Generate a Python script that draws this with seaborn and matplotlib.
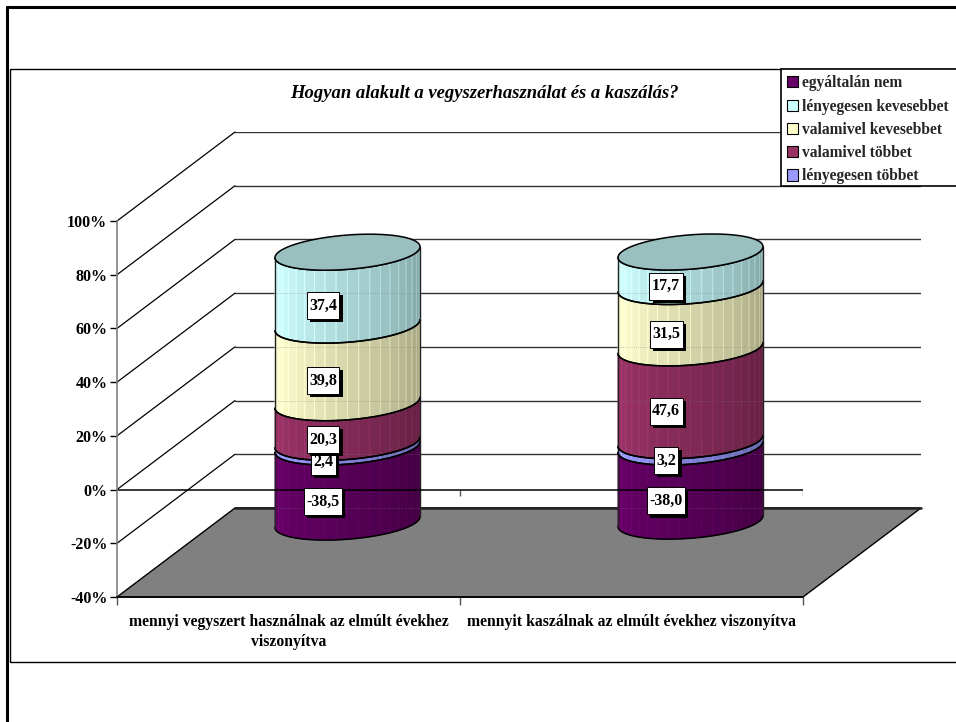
import numpy as np
import pandas as pd
import seaborn as sns
import matplotlib.pyplot as plt
from matplotlib.colors import to_rgb
from matplotlib.lines import Line2D
from matplotlib.path import Path
from matplotlib.patches import Patch, Polygon, Rectangle
from matplotlib.patheffects import withSimplePatchShadow
from matplotlib.transforms import blended_transform_factory

categories = ['mennyi vegyszert használnak az elmúlt évekhez\nviszonyítva',
              'mennyit kaszálnak az elmúlt évekhez viszonyítva']
egyaltalan_nem = [-38.5, -38.0]
lenyegesen_tobbet = [2.4, 3.2]
valamivel_tobbet = [20.3, 47.6]
valamivel_kevesebbet = [39.8, 31.5]
lenyegesen_kevesebbet = [37.4, 17.7]
y_ticks = [-40, -20, 0, 20, 40, 60, 80, 100]

c_purple = '#660066'
c_blue = '#9999FF'
c_red = '#993366'
c_yellow = '#FFFFCC'
c_cyan = '#CCFFFF'

W, H = 956, 722

sns.set_theme(style='white')
plt.rcParams['font.family'] = ['Liberation Serif', 'DejaVu Serif']
plt.rcParams['font.weight'] = 'bold'


def px_box(x0, x1, y_top, y_bottom):
    return [x0 / W, 1 - y_bottom / H, (x1 - x0) / W, (y_bottom - y_top) / H]


fig = plt.figure(figsize=(W / 100, H / 100), dpi=100, facecolor='white')

back = fig.add_axes(px_box(235, 921, 132, 508), zorder=1)
cyl = fig.add_axes(px_box(176, 862, 252, 525), zorder=3)
front = fig.add_axes(px_box(117, 803, 221, 597), zorder=4)

for ax in (back, cyl, front):
    ax.patch.set_alpha(0)

# back wall
back.set_xlim(-0.5, 1.5)
back.set_ylim(-40, 100)
back.set_yticks(y_ticks)
back.set_xticks([])
back.tick_params(labelleft=False, length=0)
back.grid(axis='y', color='#333333', lw=1)
sns.despine(ax=back, left=True, bottom=True)

# front axis
front.set_xlim(-0.5, 1.5)
front.set_ylim(-40, 100)
front.set_yticks(y_ticks)
front.set_yticklabels([f'{v}%' for v in y_ticks], fontsize=11.5, fontweight='bold', color='black')
front.set_xticks([0, 1])
front.set_xticklabels(categories, fontsize=11.3, fontweight='bold', color='black', linespacing=1.35)
front.set_xticks([-0.5, 0.5, 1.5], minor=True)
front.tick_params(axis='y', left=True, length=5, width=1, color='black', pad=2)
front.tick_params(axis='x', which='major', length=0, pad=12)
front.tick_params(axis='x', which='minor', bottom=True, length=6, width=1, color='#555555')
sns.despine(ax=front, right=True, top=True)
front.spines['left'].set_color('#808080')
front.spines['left'].set_linewidth(1.2)
front.spines['bottom'].set_color('black')
front.spines['bottom'].set_linewidth(1.2)
front.hlines(0, -0.5, 1.5, color='black', lw=1.1)
front.vlines([0.5, 1.5], -2.3, 0, color='#555555', lw=1)


def to_back(x, y):
    return back.transData.inverted().transform(front.transData.transform((x, y)))


# side wall lines and floor
for v in y_ticks[1:]:
    p = to_back(-0.5, v)
    back.plot([p[0], -0.5], [p[1], v], color='black', lw=0.9, clip_on=False)
floor = [to_back(-0.5, -40), (-0.5, -40), (1.5, -40), to_back(1.5, -40)]
back.add_patch(Polygon(floor, closed=True, facecolor='#808080', edgecolor='black', lw=1, clip_on=False, zorder=3))
back.plot([-0.5, 1.5], [-40, -40], color='#222222', lw=1.8, clip_on=False, zorder=4)

# stacked bars, one series at a time
series = [(egyaltalan_nem, c_purple), (lenyegesen_tobbet, c_blue), (valamivel_tobbet, c_red),
          (valamivel_kevesebbet, c_yellow), (lenyegesen_kevesebbet, c_cyan)]
bottoms = np.zeros(2)
segments = []
for i, (vals, col) in enumerate(series):
    vals = np.array(vals)
    base = np.zeros(2) if vals[0] < 0 else bottoms.copy()
    df = pd.DataFrame({'kat': categories, 'ertek': vals})
    sns.barplot(data=df, x='kat', y='ertek', ax=cyl, bottom=base, color=col, width=0.4227,
                saturation=1, errorbar=None, legend=False)
    for j in range(2):
        segments.append((j, base[j], base[j] + vals[j], vals[j], col))
    if vals[0] > 0:
        bottoms = base + vals
cyl.set_xlim(-0.5, 1.5)
cyl.set_ylim(-40, 100)
cyl.axis('off')

bar_half = 0.4227 / 2
ell_b = 8.8
ell_s = 2.8
n_facets = 20


def arc_pts(xc, yc, t):
    return xc + bar_half * np.cos(t), yc + ell_s * np.cos(t) - ell_b * np.sin(t)


def shade(col, f):
    return tuple(min(1, c * f) for c in to_rgb(col))


edges = np.linspace(np.pi, 0, n_facets + 1)
full = np.linspace(0, np.pi, 60)
for bar, (j, y0, y1, val, col) in zip(list(cyl.patches), segments):
    lo, hi = min(y0, y1), max(y0, y1)
    xl, yl = arc_pts(j, lo, full)
    xh, yh = arc_pts(j, hi, full)
    outline = np.r_[np.c_[xl, yl], np.c_[xh, yh][::-1]]
    bar.set_clip_path(Polygon(outline, closed=True, transform=cyl.transData))
    for k in range(n_facets):
        t = np.linspace(edges[k], edges[k + 1], 4)
        ax_, ay_ = arc_pts(j, lo, t)
        bx_, by_ = arc_pts(j, hi, t)
        f = np.interp((k + 0.5) / n_facets, [0, 0.12, 1], [0.95, 1.0, 0.62])
        pts = np.r_[np.c_[ax_, ay_], np.c_[bx_, by_][::-1]]
        cyl.add_patch(Polygon(pts, closed=True, facecolor=shade(col, f), edgecolor=shade(col, f + 0.12),
                              lw=0.7, zorder=3, clip_on=False))
    cyl.plot(xl, yl, color='black', lw=1.1, zorder=5, clip_on=False)
    cyl.plot(xh, yh, color='black', lw=1.1, zorder=5, clip_on=False)
    cyl.plot([xl[0], xh[0]], [yl[0], yh[0]], color='#222222', lw=1, zorder=5, clip_on=False)
    cyl.plot([xl[-1], xh[-1]], [yl[-1], yh[-1]], color='#222222', lw=1, zorder=5, clip_on=False)

# top of the cylinders
tops = bottoms
t_all = np.linspace(0, 2 * np.pi, 120)
for j in range(2):
    tx, ty = arc_pts(j, tops[j], t_all)
    cyl.add_patch(Polygon(np.c_[tx, ty], closed=True, facecolor=shade(c_cyan, 0.75), edgecolor='black', lw=1.1,
                          zorder=6, clip_on=False))

# faint grid over the cylinders
grid_tr = blended_transform_factory(cyl.transData, back.transData)
for v in [v for v in y_ticks if v <= 40]:
    for j in range(2):
        cyl.plot([j - bar_half, j + bar_half], [v, v], transform=grid_tr, color='#777777', lw=0.6, ls=':',
                 alpha=0.55, zorder=4, clip_on=False)


# label box: a little wider than the text, fixed height (pixels here)
def label_box(x0, y0, width, height, mutation_size):
    cy = y0 + height / 2
    x0, x1 = x0 - 2.5, x0 + width + 2.5
    y0, y1 = cy - 13.5, cy + 13.5
    return Path([(x0, y0), (x1, y0), (x1, y1), (x0, y1), (x0, y0)], closed=True)


# value labels
for j, y0, y1, val, col in segments:
    t = front.annotate(f'{val:.1f}'.replace('.', ','), xy=(j, (y0 + y1) / 2), xycoords=cyl.transData,
                       xytext=(-17.6, -12.2), textcoords='offset points', ha='center', va='center',
                       fontsize=11.5, fontweight='bold', color='black', zorder=10,
                       bbox=dict(boxstyle='square,pad=0.28', facecolor='white', edgecolor='black', lw=0.7))
    t.get_bbox_patch().set_boxstyle(label_box)
    t.get_bbox_patch().set_path_effects([withSimplePatchShadow(offset=(2.2, -2.2), shadow_rgbFace='black', alpha=1)])

# frames, title, legend
fig.add_artist(Rectangle((10 / W, 1 - 662 / H), 960 / W, 593 / H, fill=False, edgecolor='black', lw=1,
                         transform=fig.transFigure, zorder=0))
fig.add_artist(Line2D([7 / W, 7 / W], [0, 1 - 7 / H], color='black', lw=2.2, transform=fig.transFigure))
fig.add_artist(Line2D([7 / W, 1], [1 - 7 / H, 1 - 7 / H], color='black', lw=2.2, transform=fig.transFigure))

fig.text(484 / W, 1 - 93 / H, 'Hogyan alakult a vegyszerhasználat és a kaszálás?', ha='center', va='center',
         fontsize=13.4, fontweight='bold', fontstyle='italic', color='black')

fig.add_artist(Rectangle((781 / W, 1 - 186 / H), 180 / W, 117 / H, facecolor='white', edgecolor='black', lw=1.2,
                         transform=fig.transFigure, zorder=19))
handles = [Patch(facecolor=c, edgecolor='black', lw=0.8) for c in [c_purple, c_cyan, c_yellow, c_red, c_blue]]
labels = ['egyáltalán nem', 'lényegesen kevesebbet', 'valamivel kevesebbet', 'valamivel többet', 'lényegesen többet']
leg = fig.legend(handles, labels, loc='upper left', bbox_to_anchor=(781 / W, 1 - 69 / H), borderaxespad=0,
                 prop={'size': 11.2, 'weight': 'bold'}, handlelength=0.72, handleheight=0.72, handletextpad=0.2,
                 labelspacing=0.47, borderpad=0.4, frameon=False)
leg.set_zorder(20)

fig.savefig('out.png', dpi=100)
